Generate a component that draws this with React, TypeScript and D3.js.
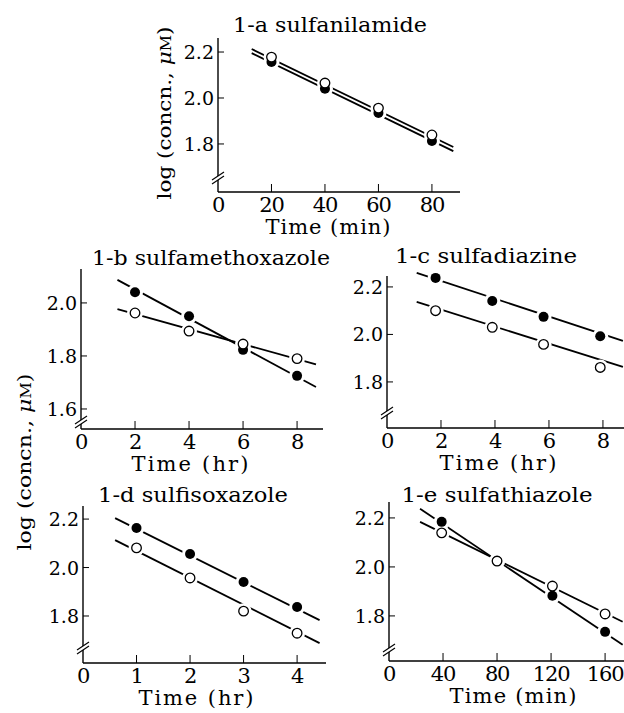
// Five small semi-log panels: concentration vs time for sulfa drugs
import * as d3 from "d3";

// 1-a sulfanilamide (min)
const timeA = [20, 40, 60, 80];
const openA = [2.178, 2.065, 1.956, 1.839];
const filledA = [2.157, 2.04, 1.935, 1.813];
const lineXA = [12.6, 88];
const openLineA = [2.213, 1.787];
const filledLineA = [2.195, 1.769];

// 1-b sulfamethoxazole (hr)
const timeB = [2, 4, 6, 8];
const openB = [1.962, 1.894, 1.845, 1.79];
const filledB = [2.04, 1.95, 1.823, 1.725];
const lineXB = [1.35, 8.7];
const openLineB = [1.977, 1.768];
const filledLineB = [2.087, 1.683];

// 1-c sulfadiazine (hr)
const timeC = [1.8, 3.9, 5.8, 7.9];
const openC = [2.1, 2.03, 1.958, 1.861];
const filledC = [2.238, 2.141, 2.074, 1.992];
const lineXC = [1.1, 8.74];
const openLineC = [2.137, 1.863];
const filledLineC = [2.259, 1.973];

// 1-d sulfisoxazole (hr)
const timeD = [1, 2, 3, 4];
const openD = [2.081, 1.957, 1.82, 1.729];
const filledD = [2.163, 2.056, 1.94, 1.837];
const lineXD = [0.6, 4.42];
const openLineD = [2.113, 1.688];
const filledLineD = [2.204, 1.783];

// 1-e sulfathiazole (min)
const timeE = [39, 80, 121, 160];
const openE = [2.139, 2.024, 1.922, 1.808];
const filledE = [2.184, 2.024, 1.882, 1.735];
const lineXE = [23, 173];
const openLineE = [2.184, 1.776];
const filledLineE = [2.237, 1.682];

const xTicksMin = [0, 20, 40, 60, 80];
const xTicksHr8 = [0, 2, 4, 6, 8];
const xTicksHr4 = [0, 1, 2, 3, 4];
const xTicksMin160 = [0, 40, 80, 120, 160];
const yTicks3 = [1.8, 2.0, 2.2];
const yTicksB = [1.6, 1.8, 2.0];

const panels = [
  { title: "1-a sulfanilamide", unit: "Time (min)", time: timeA, open: openA, filled: filledA,
    lineX: lineXA, openLine: openLineA, filledLine: filledLineA, xTicks: xTicksMin, yTicks: yTicks3,
    xDomain: [0, 90.5], yDomain: [1.591, 2.261],
    box: { left: 218, right: 460, top: 38, bottom: 192 }, brk: 14,
    tx: 330, ty: 32, tlen: 194, ax: 328, alen: 125 },
  { title: "1-b sulfamethoxazole", unit: "Time (hr)", time: timeB, open: openB, filled: filledB,
    lineX: lineXB, openLine: openLineB, filledLine: filledLineB, xTicks: xTicksHr8, yTicks: yTicksB,
    xDomain: [0, 8.96], yDomain: [1.5245, 2.128],
    box: { left: 81, right: 323, top: 269, bottom: 429 }, brk: 7,
    tx: 211, ty: 265, tlen: 238, ax: 190, alen: 117 },
  { title: "1-c sulfadiazine", unit: "Time (hr)", time: timeC, open: openC, filled: filledC,
    lineX: lineXC, openLine: openLineC, filledLine: filledLineC, xTicks: xTicksHr8, yTicks: yTicks3,
    xDomain: [0, 8.78], yDomain: [1.606, 2.246],
    box: { left: 387, right: 624, top: 276, bottom: 428 }, brk: 15,
    tx: 486, ty: 263, tlen: 182, ax: 498, alen: 117 },
  { title: "1-d sulfisoxazole", unit: "Time (hr)", time: timeD, open: openD, filled: filledD,
    lineX: lineXD, openLine: openLineD, filledLine: filledLineD, xTicks: xTicksHr4, yTicks: yTicks3,
    xDomain: [0, 4.54], yDomain: [1.606, 2.254],
    box: { left: 83, right: 326, top: 506, bottom: 663 }, brk: 15,
    tx: 193, ty: 502, tlen: 190, ax: 196, alen: 115 },
  { title: "1-e sulfathiazole", unit: "Time (min)", time: timeE, open: openE, filled: filledE,
    lineX: lineXE, openLine: openLineE, filledLine: filledLineE, xTicks: xTicksMin160, yTicks: yTicks3,
    xDomain: [0, 174], yDomain: [1.616, 2.265],
    box: { left: 389, right: 624, top: 502, bottom: 661 }, brk: 11,
    tx: 497, ty: 502, tlen: 191, ax: 513, alen: 127 },
];

const FONT = "DejaVu Serif";

function Panel({ p }) {
  const { box } = p;
  const x = d3.scaleLinear().domain(p.xDomain).range([box.left, box.right]);
  const y = d3.scaleLinear().domain(p.yDomain).range([box.bottom, box.top]);
  const line = d3.line<[number, number]>().x((d) => x(d[0])).y((d) => y(d[1]));
  const by = box.bottom - p.brk;

  const pts = (vals) => p.time.map((t, i) => [t, vals[i]]);

  return (
    <g>
      {/* axes */}
      <line x1={box.left} x2={box.left} y1={box.top} y2={box.bottom} stroke="#000" strokeWidth={1.4} />
      <line x1={box.left} x2={box.right} y1={box.bottom} y2={box.bottom} stroke="#000" strokeWidth={1.6} />
      {/* axis break */}
      <rect x={box.left - 2} y={by - 2} width={4} height={4} fill="#fff" />
      {[-2, 2].map((o) => (
        <line key={o} x1={box.left - 6} y1={by + o + 4} x2={box.left + 6} y2={by + o - 4} stroke="#000" strokeWidth={1.1} />
      ))}
      {/* y ticks */}
      {p.yTicks.map((t) => (
        <g key={t}>
          <line x1={box.left} x2={box.left + 6} y1={y(t)} y2={y(t)} stroke="#000" strokeWidth={1} />
          <text x={box.left - 4} y={y(t) + 7} textAnchor="end" fontSize={19}
            fontFamily={FONT}>{t.toFixed(1)}</text>
        </g>
      ))}
      {/* x ticks */}
      {p.xTicks.map((t) => (
        <g key={t}>
          {t !== 0 && <line x1={x(t)} x2={x(t)} y1={box.bottom} y2={box.bottom - 8} stroke="#000" strokeWidth={1} />}
          <text x={x(t)} y={box.bottom + 20} textAnchor="middle" fontSize={21} letterSpacing={-1.2}
            fontFamily={FONT}>{t}</text>
        </g>
      ))}
      <text x={p.ax} y={box.bottom + 42} textAnchor="middle" fontSize={21} fontFamily={FONT}
        textLength={p.alen} lengthAdjust="spacing">{p.unit}</text>
      <text x={p.tx} y={p.ty} textAnchor="middle" fontSize={20} fontFamily={FONT}
        textLength={p.tlen} lengthAdjust="spacingAndGlyphs">{p.title}</text>

      {/* fitted lines */}
      <path d={line([[p.lineX[0], p.openLine[0]], [p.lineX[1], p.openLine[1]]])} stroke="#000" strokeWidth={1.8} fill="none" />
      <path d={line([[p.lineX[0], p.filledLine[0]], [p.lineX[1], p.filledLine[1]]])} stroke="#000" strokeWidth={1.8} fill="none" />

      {/* white halos to break the lines around the markers */}
      {[...pts(p.filled), ...pts(p.open)].map((d, i) => (
        <circle key={"h" + i} cx={x(d[0])} cy={y(d[1])} r={8} fill="#fff" />
      ))}
      {pts(p.filled).map((d, i) => (
        <circle key={"f" + i} cx={x(d[0])} cy={y(d[1])} r={5} fill="#000" />
      ))}
      {pts(p.open).map((d, i) => (
        <circle key={"o" + i} cx={x(d[0])} cy={y(d[1])} r={4.8} fill="#fff" stroke="#000" strokeWidth={1.3} />
      ))}
    </g>
  );
}

function YLabel({ bx, cy, len }) {
  return (
    <text transform={`translate(${bx},${cy}) rotate(-90)`} textAnchor="middle"
      fontSize={19} fontFamily={FONT} textLength={len} lengthAdjust="spacingAndGlyphs">
      log (concn., <tspan fontStyle="italic">μ</tspan><tspan fontSize={14}>M</tspan>)
    </text>
  );
}

export default function App() {
  return (
    <svg width={624} height={713} style={{ position: "absolute", left: 0, top: 0, background: "#fff" }}>
      <rect width={624} height={713} fill="#fff" />
      <YLabel bx={171} cy={113} len={173} />
      <YLabel bx={31} cy={462} len={177} />
      {panels.map((p, i) => (
        <Panel key={i} p={p} />
      ))}
    </svg>
  );
}
